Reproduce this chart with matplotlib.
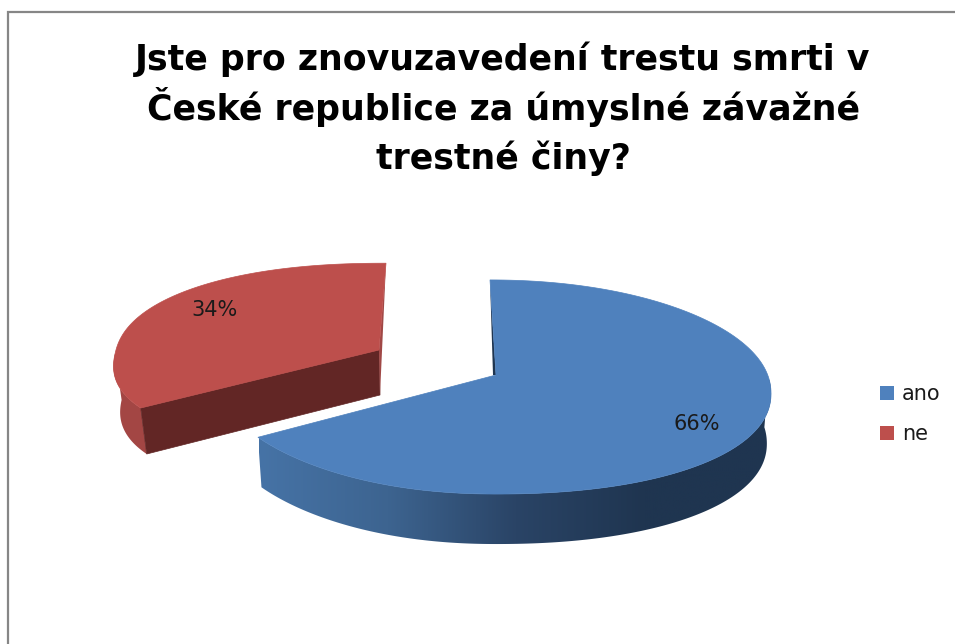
"""
3D koláčový graf: trest smrti v ČR.
"""

import matplotlib.pyplot as plt
import numpy as np
from matplotlib.colors import LinearSegmentedColormap
from matplotlib.patches import Patch, Polygon

title_lines = ["Jste pro znovuzavedení trestu smrti v", "České republice za úmyslné závažné", "trestné činy?"]
categories = ["ano", "ne"]
values = [66, 34]
colors = ["#4f81bd", "#bd4f4c"]

# geometry of the tilted slices, in pixels of the picture
BLUE = dict(cx=493, cy=375, rx=278, a=105.7, kx=0.0, ky=0.112, tilt=-3, bulge=17, side=1, round_=0.95, depth=50, squeeze=0.985)
RED = dict(cx=379, cy=350, rx=264, a=92.0, kx=0.05, ky=0.06, tilt=7, bulge=4, side=-1, round_=0.88, depth=46, squeeze=0.975)


def project(theta, cx, cy, rx, a, kx, ky, tilt, bulge, side, round_, depth=0, squeeze=1.0, low=False):
    """theta is measured clockwise from 12 o'clock, in radians."""
    u, v = np.sin(theta), np.cos(theta)
    u = np.sign(u) * np.abs(u) ** round_
    v = np.sign(v) * np.abs(v) ** round_
    x = rx * u / (1 + kx * v) + tilt * v
    y = -a * v / (1 + ky * v) + bulge * np.clip(u * side, 0, None) ** 2
    if low:
        return cx + x * squeeze, cy + y + depth
    return cx + x, cy + y


def arc(start, stop, geom, low=False):
    theta = np.linspace(start, stop, 200)
    x, y = project(theta, low=low, **geom)
    return np.column_stack([x, y])


fig = plt.figure(figsize=(9.55, 6.44), dpi=100)
ax = fig.add_axes([0, 0, 1, 1])
ax.set_xlim(0, 955)
ax.set_ylim(644, 0)
ax.axis("off")

ax.plot([8, 8, 955], [644, 12, 12], color="#868686", lw=1.6, solid_joinstyle="miter")

split = 2 * np.pi * values[0] / sum(values)

# red slice, pulled out of the pie
red_top = arc(split, 2 * np.pi, RED)
red_wall = np.vstack([arc(split, 1.5 * np.pi, RED), arc(split, 1.5 * np.pi, RED, low=True)[::-1]])
apex = np.array([RED["cx"], RED["cy"]])
ax.add_patch(Polygon(red_wall, fc="#a34644", ec="none", zorder=2))
ax.add_patch(Polygon([apex, red_top[0], arc(split, split, RED, low=True)[0], apex + [1, RED["depth"] - 1]],
                     fc="#622625", ec="#622625", lw=0.5, zorder=3))
ax.add_patch(Polygon([red_top[-1], apex, apex + [1, RED["depth"] - 1]], fc="#a04846", ec="none", zorder=3))
ax.add_patch(Polygon(np.vstack([apex, red_top]), fc=colors[1], ec=colors[1], lw=0.5, zorder=4))

# blue slice, outer wall has a horizontal gradient
blue_top = arc(0, split, BLUE)
blue_apex = np.array([BLUE["cx"] + 3, BLUE["cy"]])
blue_wall = np.vstack([arc(0.46 * np.pi, split, BLUE), arc(0.46 * np.pi, split, BLUE, low=True)[::-1]])
wall_patch = Polygon(blue_wall, fc="none", ec="none", zorder=2)
ax.add_patch(wall_patch)
wall_cmap = LinearSegmentedColormap.from_list("wall", ["#4673a6", "#3d6490", "#2a4466", "#1f3550", "#1f3550"])
shade = ax.imshow(np.linspace(0, 1, 256)[None, :], cmap=wall_cmap, extent=[259, 772, 560, 380], aspect="auto", zorder=2)
shade.set_clip_path(wall_patch)
ax.set_xlim(0, 955)
ax.set_ylim(644, 0)
ax.add_patch(Polygon([blue_top[0], blue_apex, blue_apex + [-3, 0]], fc="#1f3550", ec="none", zorder=3))
ax.add_patch(Polygon(np.vstack([blue_apex, blue_top]), fc=colors[0], ec=colors[0], lw=0.5, zorder=4))

label_pos = [(697, 424), (214, 310)]
for val, pos in zip(values, label_pos):
    ax.text(*pos, f"{val}%", fontsize=15, color="#1a1a1a", ha="center", va="center", zorder=5)

for line, y in zip(title_lines, [70, 120, 169]):
    ax.text(503, y, line, fontweight="bold", fontsize=25, color="black", ha="center", va="baseline", zorder=5)

handles = [Patch(fc=c, ec="none", label=n) for c, n in zip(colors, categories)]
ax.legend(handles=handles, loc="center left", bbox_to_anchor=(880, 414), bbox_transform=ax.transData,
          frameon=False, fontsize=15, handlelength=0.67, handleheight=0.67, borderpad=0, borderaxespad=0,
          handletextpad=0.38, labelspacing=0.95, labelcolor="#1a1a1a")

fig.savefig("out.png", dpi=100)
